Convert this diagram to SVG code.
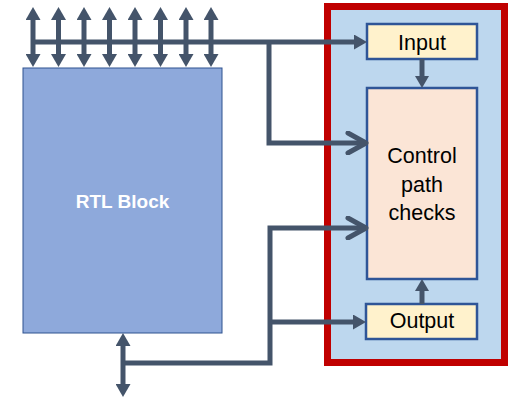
<svg xmlns="http://www.w3.org/2000/svg" width="508" height="403" viewBox="0 0 508 403">
<defs>
<marker id="tri" viewBox="0 0 13 15" refX="7" refY="7.5" markerWidth="13" markerHeight="15" markerUnits="userSpaceOnUse" orient="auto-start-reverse">
<path d="M0,0 L13,7.5 L0,15 Z" fill="#44546A"/>
</marker>
<marker id="tris" viewBox="0 0 12 14" refX="6" refY="7" markerWidth="12" markerHeight="14" markerUnits="userSpaceOnUse" orient="auto-start-reverse">
<path d="M0,0 L12,7 L0,14 Z" fill="#44546A"/>
</marker>
<marker id="open" viewBox="-1 -1 24 24" refX="20" refY="11" markerWidth="24" markerHeight="24" markerUnits="userSpaceOnUse" orient="auto">
<path d="M2,1 L20,11 L2,21" fill="none" stroke="#44546A" stroke-width="5" stroke-linecap="round" stroke-linejoin="round"/>
</marker>
</defs>
<style>
.w{fill:none;stroke:#44546A;stroke-width:5}
.box{stroke:#2F5597;stroke-width:2.5}
.t{font-family:"Liberation Sans",Arial,sans-serif;font-size:21.5px;fill:#000;text-anchor:middle}
</style>
<g id="checker">
<rect x="327.5" y="6.5" width="177" height="356" fill="#BDD7EE" stroke="#C00000" stroke-width="7"/>
</g>
<g id="rtl">
<rect x="23" y="68" width="199" height="265" fill="#8EA9DB" stroke="#2F528F" stroke-width="1"/>
<text x="122.5" y="208" font-family="Liberation Sans,Arial,sans-serif" font-size="19" font-weight="bold" fill="#fff" text-anchor="middle">RTL Block</text>
</g>
<g id="input">
<rect x="367" y="24" width="110" height="35" fill="#FFF2CC" class="box"/>
<text x="422" y="50" class="t">Input</text>
</g>
<g id="control">
<rect x="367" y="88" width="110" height="191" fill="#FBE5D6" class="box"/>
<text x="422" y="163" class="t">Control</text>
<text x="422" y="191.5" class="t">path</text>
<text x="422" y="220" class="t">checks</text>
</g>
<g id="output">
<rect x="366" y="304" width="111" height="35" fill="#FFF2CC" class="box"/>
<text x="422" y="328" class="t">Output</text>
</g>
<g id="connectors">
<line class="w" x1="33" y1="13" x2="33" y2="61" marker-start="url(#tri)" marker-end="url(#tri)"/>
<line class="w" x1="58.5" y1="13" x2="58.5" y2="61" marker-start="url(#tri)" marker-end="url(#tri)"/>
<line class="w" x1="84" y1="13" x2="84" y2="61" marker-start="url(#tri)" marker-end="url(#tri)"/>
<line class="w" x1="109.5" y1="13" x2="109.5" y2="61" marker-start="url(#tri)" marker-end="url(#tri)"/>
<line class="w" x1="135" y1="13" x2="135" y2="61" marker-start="url(#tri)" marker-end="url(#tri)"/>
<line class="w" x1="160.5" y1="13" x2="160.5" y2="61" marker-start="url(#tri)" marker-end="url(#tri)"/>
<line class="w" x1="186" y1="13" x2="186" y2="61" marker-start="url(#tri)" marker-end="url(#tri)"/>
<line class="w" x1="211" y1="13" x2="211" y2="61" marker-start="url(#tri)" marker-end="url(#tri)"/>
<line class="w" x1="33" y1="42" x2="361" y2="42" marker-end="url(#tri)"/>
<polyline class="w" points="269,42 269,143 366,143" marker-end="url(#open)"/>
<polyline class="w" points="123,363 270,363 270,228 366,228" marker-end="url(#open)"/>
<line class="w" x1="270" y1="322" x2="360" y2="322" marker-end="url(#tri)"/>
<line class="w" x1="123" y1="339" x2="123" y2="391" marker-start="url(#tri)" marker-end="url(#tri)"/>
<line class="w" x1="422" y1="59" x2="422" y2="82" marker-end="url(#tris)"/>
<line class="w" x1="422" y1="304" x2="422" y2="285" marker-end="url(#tris)"/>
</g>
</svg>
